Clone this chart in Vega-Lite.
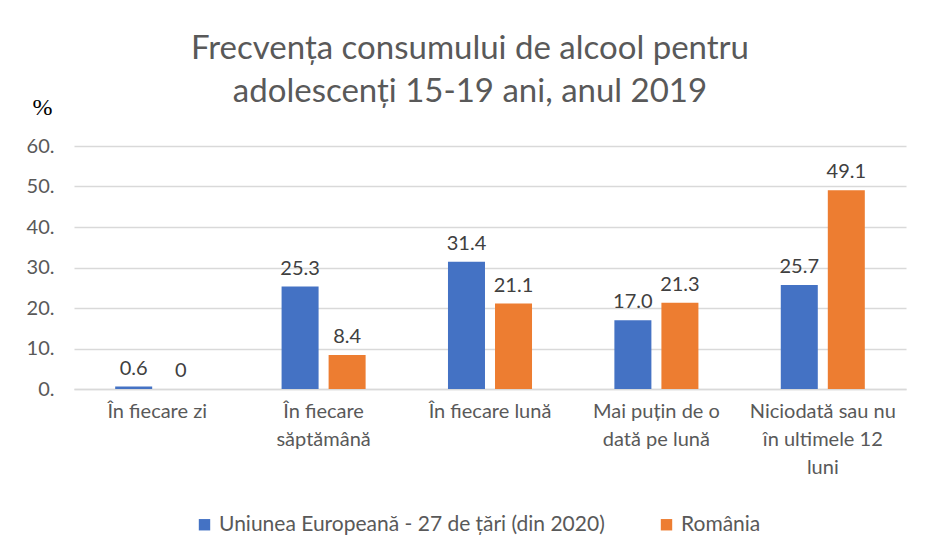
{
  "$schema": "https://vega.github.io/schema/vega-lite/v6.json",
  "width": 832,
  "height": 243,
  "autosize": {"type": "none"},
  "padding": {"left": 74, "top": 146, "right": 24, "bottom": 170},
  "background": "white",
  "title": {
    "text": ["Frecvența consumului de alcool pentru", "adolescenți 15-19 ani, anul 2019"],
    "font": "Lato",
    "fontSize": 33,
    "fontWeight": "normal",
    "color": "#595959",
    "anchor": "middle",
    "dx": -20,
    "offset": -14,
    "lineHeight": 43
  },
  "data": {
    "values": [
      {"cat": "În fiecare zi", "serie": "Uniunea Europeană - 27 de țări (din 2020)", "v": 0.6},
      {"cat": "În fiecare zi", "serie": "România", "v": 0},
      {"cat": "În fiecare săptămână", "serie": "Uniunea Europeană - 27 de țări (din 2020)", "v": 25.3},
      {"cat": "În fiecare săptămână", "serie": "România", "v": 8.4},
      {"cat": "În fiecare lună", "serie": "Uniunea Europeană - 27 de țări (din 2020)", "v": 31.4},
      {"cat": "În fiecare lună", "serie": "România", "v": 21.1},
      {"cat": "Mai puțin de o dată pe lună", "serie": "Uniunea Europeană - 27 de țări (din 2020)", "v": 17.0},
      {"cat": "Mai puțin de o dată pe lună", "serie": "România", "v": 21.3},
      {"cat": "Niciodată sau nu în ultimele 12 luni", "serie": "Uniunea Europeană - 27 de țări (din 2020)", "v": 25.7},
      {"cat": "Niciodată sau nu în ultimele 12 luni", "serie": "România", "v": 49.1}
    ]
  },
  "encoding": {
    "x": {
      "field": "cat",
      "type": "nominal",
      "sort": null,
      "scale": {"paddingInner": 0.495, "paddingOuter": 0.2475},
      "axis": {
        "title": null,
        "labelAngle": 0,
        "labelFont": "Lato",
        "labelFontSize": 20,
        "labelColor": "#595959",
        "labelPadding": 12,
        "labelLineHeight": 28,
        "labelBaseline": "top",
        "labelLimit": 300,
        "ticks": false,
        "domainColor": "#d9d9d9",
        "domainWidth": 1.5,
        "labelExpr": "datum.label == 'În fiecare săptămână' ? ['În fiecare', 'săptămână'] : datum.label == 'Mai puțin de o dată pe lună' ? ['Mai puțin de o', 'dată pe lună'] : datum.label == 'Niciodată sau nu în ultimele 12 luni' ? ['Niciodată sau nu', 'în ultimele 12', 'luni'] : datum.label"
      }
    },
    "xOffset": {"field": "serie", "type": "nominal", "sort": null, "scale": {"paddingInner": 0.213}},
    "y": {
      "field": "v",
      "type": "quantitative",
      "scale": {"domain": [0, 60]},
      "axis": {
        "values": [0, 10, 20, 30, 40, 50, 60],
        "labelExpr": "datum.value + '.'",
        "labelFont": "Lato",
        "labelFontSize": 20,
        "labelColor": "#595959",
        "labelPadding": 20,
        "ticks": false,
        "domain": false,
        "gridColor": "#d9d9d9",
        "gridWidth": 1.5,
        "title": "%",
        "titleFont": "Liberation Serif",
        "titleFontSize": 24,
        "titleFontWeight": "normal",
        "titleColor": "#000000",
        "titleAngle": 0,
        "titleAlign": "center",
        "titleBaseline": "alphabetic",
        "titleX": -32,
        "titleY": -32
      }
    },
    "color": {
      "field": "serie",
      "type": "nominal",
      "sort": null,
      "scale": {"range": ["#4472C4", "#ED7D31"]},
      "legend": {
        "title": null,
        "orient": "none",
        "direction": "horizontal",
        "legendX": 120,
        "legendY": 368,
        "symbolType": "square",
        "symbolSize": 130,
        "symbolStrokeWidth": 0,
        "symbolOpacity": 1,
        "labelFont": "Lato",
        "labelFontSize": 21,
        "labelLimit": 500,
        "labelColor": "#595959",
        "labelOffset": 4,
        "columnPadding": 51
      }
    }
  },
  "layer": [
    {"mark": {"type": "bar"}},
    {
      "mark": {"type": "text", "baseline": "bottom", "dy": -8, "font": "Lato", "fontSize": 20, "color": "#404040"},
      "encoding": {
        "text": {"condition": {"test": "datum.v == 0", "value": "0"}, "field": "v", "type": "quantitative", "format": ".1f"},
        "color": {"value": "#404040"}
      }
    }
  ],
  "config": {"view": {"stroke": null}}
}
